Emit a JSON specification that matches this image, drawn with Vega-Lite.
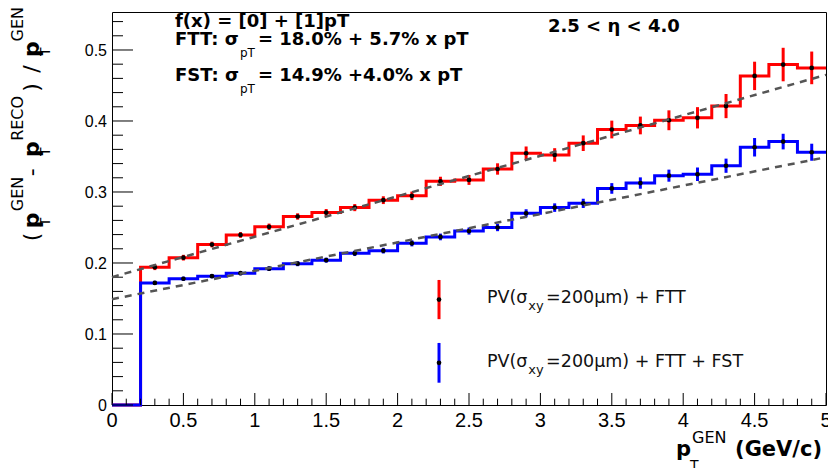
{
  "$schema": "https://vega.github.io/schema/vega-lite/v6.json",
  "width": 714,
  "height": 393,
  "autosize": {"type": "none"},
  "padding": {"left": 112, "top": 12, "right": 2, "bottom": 63},
  "background": "white",
  "config": {
    "view": {"stroke": "#000", "strokeWidth": 1},
    "axis": {"grid": false, "title": null, "ticks": false, "labels": false, "domain": false}
  },
  "datasets": {
    "bins": [
      {"det": "FTT", "x0": 0.0, "x1": 0.2, "xc": 0.1, "val": 0, "err": 0},
      {"det": "FTT", "x0": 0.2, "x1": 0.4, "xc": 0.3, "val": 0.194, "err": 0.004},
      {"det": "FTT", "x0": 0.4, "x1": 0.6, "xc": 0.5, "val": 0.2075, "err": 0.004},
      {"det": "FTT", "x0": 0.6, "x1": 0.8, "xc": 0.7, "val": 0.226, "err": 0.004},
      {"det": "FTT", "x0": 0.8, "x1": 1.0, "xc": 0.9, "val": 0.2395, "err": 0.004},
      {"det": "FTT", "x0": 1.0, "x1": 1.2, "xc": 1.1, "val": 0.251, "err": 0.0045},
      {"det": "FTT", "x0": 1.2, "x1": 1.4, "xc": 1.3, "val": 0.2655, "err": 0.0045},
      {"det": "FTT", "x0": 1.4, "x1": 1.6, "xc": 1.5, "val": 0.271, "err": 0.005},
      {"det": "FTT", "x0": 1.6, "x1": 1.8, "xc": 1.7, "val": 0.278, "err": 0.005},
      {"det": "FTT", "x0": 1.8, "x1": 2.0, "xc": 1.9, "val": 0.2885, "err": 0.0055},
      {"det": "FTT", "x0": 2.0, "x1": 2.2, "xc": 2.1, "val": 0.2946, "err": 0.006},
      {"det": "FTT", "x0": 2.2, "x1": 2.4, "xc": 2.3, "val": 0.315, "err": 0.0065},
      {"det": "FTT", "x0": 2.4, "x1": 2.6, "xc": 2.5, "val": 0.317, "err": 0.007},
      {"det": "FTT", "x0": 2.6, "x1": 2.8, "xc": 2.7, "val": 0.3324, "err": 0.008},
      {"det": "FTT", "x0": 2.8, "x1": 3.0, "xc": 2.9, "val": 0.3546, "err": 0.0095},
      {"det": "FTT", "x0": 3.0, "x1": 3.2, "xc": 3.1, "val": 0.3522, "err": 0.0095},
      {"det": "FTT", "x0": 3.2, "x1": 3.4, "xc": 3.3, "val": 0.3687, "err": 0.011},
      {"det": "FTT", "x0": 3.4, "x1": 3.6, "xc": 3.5, "val": 0.388, "err": 0.0125},
      {"det": "FTT", "x0": 3.6, "x1": 3.8, "xc": 3.7, "val": 0.3937, "err": 0.0125},
      {"det": "FTT", "x0": 3.8, "x1": 4.0, "xc": 3.9, "val": 0.401, "err": 0.014},
      {"det": "FTT", "x0": 4.0, "x1": 4.2, "xc": 4.1, "val": 0.4045, "err": 0.015},
      {"det": "FTT", "x0": 4.2, "x1": 4.4, "xc": 4.3, "val": 0.421, "err": 0.017},
      {"det": "FTT", "x0": 4.4, "x1": 4.6, "xc": 4.5, "val": 0.4635, "err": 0.02},
      {"det": "FTT", "x0": 4.6, "x1": 4.8, "xc": 4.7, "val": 0.4795, "err": 0.0236},
      {"det": "FTT", "x0": 4.8, "x1": 5.0, "xc": 4.9, "val": 0.4748, "err": 0.023},
      {"det": "FST", "x0": 0.0, "x1": 0.2, "xc": 0.1, "val": 0, "err": 0},
      {"det": "FST", "x0": 0.2, "x1": 0.4, "xc": 0.3, "val": 0.172, "err": 0.003},
      {"det": "FST", "x0": 0.4, "x1": 0.6, "xc": 0.5, "val": 0.1778, "err": 0.003},
      {"det": "FST", "x0": 0.6, "x1": 0.8, "xc": 0.7, "val": 0.1815, "err": 0.003},
      {"det": "FST", "x0": 0.8, "x1": 1.0, "xc": 0.9, "val": 0.1857, "err": 0.003},
      {"det": "FST", "x0": 1.0, "x1": 1.2, "xc": 1.1, "val": 0.192, "err": 0.0033},
      {"det": "FST", "x0": 1.2, "x1": 1.4, "xc": 1.3, "val": 0.199, "err": 0.0035},
      {"det": "FST", "x0": 1.4, "x1": 1.6, "xc": 1.5, "val": 0.204, "err": 0.0035},
      {"det": "FST", "x0": 1.6, "x1": 1.8, "xc": 1.7, "val": 0.2136, "err": 0.0038},
      {"det": "FST", "x0": 1.8, "x1": 2.0, "xc": 1.9, "val": 0.2174, "err": 0.004},
      {"det": "FST", "x0": 2.0, "x1": 2.2, "xc": 2.1, "val": 0.2277, "err": 0.0043},
      {"det": "FST", "x0": 2.2, "x1": 2.4, "xc": 2.3, "val": 0.2367, "err": 0.0047},
      {"det": "FST", "x0": 2.4, "x1": 2.6, "xc": 2.5, "val": 0.245, "err": 0.005},
      {"det": "FST", "x0": 2.6, "x1": 2.8, "xc": 2.7, "val": 0.25, "err": 0.0052},
      {"det": "FST", "x0": 2.8, "x1": 3.0, "xc": 2.9, "val": 0.27, "err": 0.0057},
      {"det": "FST", "x0": 3.0, "x1": 3.2, "xc": 3.1, "val": 0.278, "err": 0.006},
      {"det": "FST", "x0": 3.2, "x1": 3.4, "xc": 3.3, "val": 0.284, "err": 0.0065},
      {"det": "FST", "x0": 3.4, "x1": 3.6, "xc": 3.5, "val": 0.305, "err": 0.0075},
      {"det": "FST", "x0": 3.6, "x1": 3.8, "xc": 3.7, "val": 0.3126, "err": 0.008},
      {"det": "FST", "x0": 3.8, "x1": 4.0, "xc": 3.9, "val": 0.323, "err": 0.0085},
      {"det": "FST", "x0": 4.0, "x1": 4.2, "xc": 4.1, "val": 0.325, "err": 0.0095},
      {"det": "FST", "x0": 4.2, "x1": 4.4, "xc": 4.3, "val": 0.337, "err": 0.01},
      {"det": "FST", "x0": 4.4, "x1": 4.6, "xc": 4.5, "val": 0.363, "err": 0.013},
      {"det": "FST", "x0": 4.6, "x1": 4.8, "xc": 4.7, "val": 0.371, "err": 0.011},
      {"det": "FST", "x0": 4.8, "x1": 5.0, "xc": 4.9, "val": 0.356, "err": 0.012}
    ],
    "fits": [
      {"det": "FTT", "pt": 0, "sigma": 0.18},
      {"det": "FTT", "pt": 5, "sigma": 0.465},
      {"det": "FST", "pt": 0, "sigma": 0.149},
      {"det": "FST", "pt": 5, "sigma": 0.349}
    ],
    "xticks": [
      {"v": 0, "kind": "major", "base": 0}, {"v": 0.1, "kind": "minor", "base": 0}, {"v": 0.2, "kind": "minor", "base": 0}, {"v": 0.3, "kind": "minor", "base": 0}, {"v": 0.4, "kind": "minor", "base": 0},
      {"v": 0.5, "kind": "major", "base": 0}, {"v": 0.6, "kind": "minor", "base": 0}, {"v": 0.7, "kind": "minor", "base": 0}, {"v": 0.8, "kind": "minor", "base": 0}, {"v": 0.9, "kind": "minor", "base": 0},
      {"v": 1, "kind": "major", "base": 0}, {"v": 1.1, "kind": "minor", "base": 0}, {"v": 1.2, "kind": "minor", "base": 0}, {"v": 1.3, "kind": "minor", "base": 0}, {"v": 1.4, "kind": "minor", "base": 0},
      {"v": 1.5, "kind": "major", "base": 0}, {"v": 1.6, "kind": "minor", "base": 0}, {"v": 1.7, "kind": "minor", "base": 0}, {"v": 1.8, "kind": "minor", "base": 0}, {"v": 1.9, "kind": "minor", "base": 0},
      {"v": 2, "kind": "major", "base": 0}, {"v": 2.1, "kind": "minor", "base": 0}, {"v": 2.2, "kind": "minor", "base": 0}, {"v": 2.3, "kind": "minor", "base": 0}, {"v": 2.4, "kind": "minor", "base": 0},
      {"v": 2.5, "kind": "major", "base": 0}, {"v": 2.6, "kind": "minor", "base": 0}, {"v": 2.7, "kind": "minor", "base": 0}, {"v": 2.8, "kind": "minor", "base": 0}, {"v": 2.9, "kind": "minor", "base": 0},
      {"v": 3, "kind": "major", "base": 0}, {"v": 3.1, "kind": "minor", "base": 0}, {"v": 3.2, "kind": "minor", "base": 0}, {"v": 3.3, "kind": "minor", "base": 0}, {"v": 3.4, "kind": "minor", "base": 0},
      {"v": 3.5, "kind": "major", "base": 0}, {"v": 3.6, "kind": "minor", "base": 0}, {"v": 3.7, "kind": "minor", "base": 0}, {"v": 3.8, "kind": "minor", "base": 0}, {"v": 3.9, "kind": "minor", "base": 0},
      {"v": 4, "kind": "major", "base": 0}, {"v": 4.1, "kind": "minor", "base": 0}, {"v": 4.2, "kind": "minor", "base": 0}, {"v": 4.3, "kind": "minor", "base": 0}, {"v": 4.4, "kind": "minor", "base": 0},
      {"v": 4.5, "kind": "major", "base": 0}, {"v": 4.6, "kind": "minor", "base": 0}, {"v": 4.7, "kind": "minor", "base": 0}, {"v": 4.8, "kind": "minor", "base": 0}, {"v": 4.9, "kind": "minor", "base": 0},
      {"v": 5, "kind": "major", "base": 0}
    ],
    "yticks": [
      {"v": 0, "kind": "major", "base": 0}, {"v": 0.02, "kind": "minor", "base": 0}, {"v": 0.04, "kind": "minor", "base": 0}, {"v": 0.06, "kind": "minor", "base": 0}, {"v": 0.08, "kind": "minor", "base": 0},
      {"v": 0.1, "kind": "major", "base": 0}, {"v": 0.12, "kind": "minor", "base": 0}, {"v": 0.14, "kind": "minor", "base": 0}, {"v": 0.16, "kind": "minor", "base": 0}, {"v": 0.18, "kind": "minor", "base": 0},
      {"v": 0.2, "kind": "major", "base": 0}, {"v": 0.22, "kind": "minor", "base": 0}, {"v": 0.24, "kind": "minor", "base": 0}, {"v": 0.26, "kind": "minor", "base": 0}, {"v": 0.28, "kind": "minor", "base": 0},
      {"v": 0.3, "kind": "major", "base": 0}, {"v": 0.32, "kind": "minor", "base": 0}, {"v": 0.34, "kind": "minor", "base": 0}, {"v": 0.36, "kind": "minor", "base": 0}, {"v": 0.38, "kind": "minor", "base": 0},
      {"v": 0.4, "kind": "major", "base": 0}, {"v": 0.42, "kind": "minor", "base": 0}, {"v": 0.44, "kind": "minor", "base": 0}, {"v": 0.46, "kind": "minor", "base": 0}, {"v": 0.48, "kind": "minor", "base": 0},
      {"v": 0.5, "kind": "major", "base": 0}, {"v": 0.52, "kind": "minor", "base": 0}, {"v": 0.54, "kind": "minor", "base": 0}
    ],
    "legend": [
      {"det": "FTT", "lx": 2.29, "ly": 0.1485, "lerr": 0.0276},
      {"det": "FST", "lx": 2.29, "ly": 0.0594, "lerr": 0.028}
    ],
    "notes": [
      {"role": "hdr", "t": "f(x) = [0] + [1]pT", "x": 0.441, "y": 0.5318},
      {"role": "hdr", "t": "FTT: σ", "x": 0.441, "y": 0.5064},
      {"role": "hdrsub", "t": "pT", "x": 0.896, "y": 0.5064},
      {"role": "hdr", "t": "= 18.0% + 5.7% x pT", "x": 1.022, "y": 0.5064},
      {"role": "hdr", "t": "FST: σ", "x": 0.441, "y": 0.4569},
      {"role": "hdrsub", "t": "pT", "x": 0.896, "y": 0.4569},
      {"role": "hdr", "t": "= 14.9% +4.0% x pT", "x": 1.022, "y": 0.4569},
      {"role": "hdr", "t": "2.5 < η < 4.0", "x": 3.053, "y": 0.5257},
      {"role": "leg", "t": "PV(σ", "x": 2.626, "y": 0.1438},
      {"role": "legsub", "t": "xy", "x": 2.915, "y": 0.1438},
      {"role": "leg", "t": "=200μm) + FTT", "x": 3.04, "y": 0.1438},
      {"role": "leg", "t": "PV(σ", "x": 2.626, "y": 0.0533},
      {"role": "legsub", "t": "xy", "x": 2.915, "y": 0.0533},
      {"role": "leg", "t": "=200μm) + FTT + FST", "x": 3.04, "y": 0.0533},
      {"role": "xt", "t": "p", "x": 3.95, "y": -0.0721},
      {"role": "xtsub", "t": "T", "x": 4.048, "y": -0.0721},
      {"role": "xtsup", "t": "GEN", "x": 4.062, "y": -0.0721},
      {"role": "xt", "t": "(GeV/c)", "x": 4.363, "y": -0.0721},
      {"role": "yt", "t": "(", "x": -0.511, "y": 0.2306},
      {"role": "ytb", "t": "p", "x": -0.511, "y": 0.2489},
      {"role": "ytsub", "t": "T", "x": -0.511, "y": 0.2518},
      {"role": "ytsup", "t": "GEN", "x": -0.511, "y": 0.273},
      {"role": "yt", "t": "-", "x": -0.511, "y": 0.322},
      {"role": "ytb", "t": "p", "x": -0.511, "y": 0.3494},
      {"role": "ytsub", "t": "T", "x": -0.511, "y": 0.3508},
      {"role": "ytsup", "t": "RECO", "x": -0.511, "y": 0.372},
      {"role": "yt", "t": ")", "x": -0.511, "y": 0.4413},
      {"role": "yt", "t": "/", "x": -0.511, "y": 0.468},
      {"role": "ytb", "t": "p", "x": -0.511, "y": 0.49},
      {"role": "ytsub", "t": "T", "x": -0.511, "y": 0.4915},
      {"role": "ytsup", "t": "GEN", "x": -0.511, "y": 0.512}
    ]
  },
  "layer": [
    {
      "data": {"name": "bins"},
      "transform": [{"fold": ["x0", "x1"], "as": ["edge", "xe"]}],
      "mark": {"type": "line", "strokeWidth": 3, "interpolate": "linear"},
      "encoding": {
        "x": {"field": "xe", "type": "quantitative", "scale": {"domain": [0, 5], "nice": false, "zero": false}, "axis": null},
        "y": {"field": "val", "type": "quantitative", "scale": {"domain": [0, 0.5535], "nice": false, "zero": false}, "axis": null},
        "color": {"field": "det", "type": "nominal", "scale": {"domain": ["FTT", "FST"], "range": ["#ff0000", "#0000ff"]}, "legend": null},
        "order": {"value": null}
      }
    },
    {
      "data": {"name": "xticks"},
      "transform": [{"filter": "datum.kind === 'major'"}],
      "mark": {"type": "point", "shape": "M0,0L0,-2", "filled": false, "color": "#000", "strokeWidth": 1, "opacity": 1, "size": 144},
      "encoding": {
        "x": {"field": "v", "type": "quantitative", "axis": null},
        "y": {"field": "base", "type": "quantitative", "axis": null}
      }
    },
    {
      "data": {"name": "xticks"},
      "transform": [{"filter": "datum.kind === 'minor'"}],
      "mark": {"type": "point", "shape": "M0,0L0,-2", "filled": false, "color": "#000", "strokeWidth": 1, "opacity": 1, "size": 40},
      "encoding": {
        "x": {"field": "v", "type": "quantitative", "axis": null},
        "y": {"field": "base", "type": "quantitative", "axis": null}
      }
    },
    {
      "data": {"name": "xticks"},
      "transform": [{"filter": "datum.kind === 'major'"}],
      "mark": {"type": "text", "align": "center", "baseline": "alphabetic", "dy": 22, "font": "Liberation Sans", "fontSize": 20, "color": "#000"},
      "encoding": {
        "x": {"field": "v", "type": "quantitative", "axis": null},
        "y": {"field": "base", "type": "quantitative", "axis": null},
        "text": {"field": "v", "type": "quantitative", "format": "~g"}
      }
    },
    {
      "data": {"name": "yticks"},
      "transform": [{"filter": "datum.kind === 'major'"}],
      "mark": {"type": "point", "shape": "M0,0L2,0", "filled": false, "color": "#000", "strokeWidth": 1, "opacity": 1, "size": 441},
      "encoding": {
        "y": {"field": "v", "type": "quantitative", "axis": null},
        "x": {"field": "base", "type": "quantitative", "axis": null}
      }
    },
    {
      "data": {"name": "yticks"},
      "transform": [{"filter": "datum.kind === 'minor'"}],
      "mark": {"type": "point", "shape": "M0,0L2,0", "filled": false, "color": "#000", "strokeWidth": 1, "opacity": 1, "size": 121},
      "encoding": {
        "y": {"field": "v", "type": "quantitative", "axis": null},
        "x": {"field": "base", "type": "quantitative", "axis": null}
      }
    },
    {
      "data": {"name": "yticks"},
      "transform": [{"filter": "datum.kind === 'major'"}],
      "mark": {"type": "text", "align": "right", "baseline": "alphabetic", "dx": -5, "dy": 6, "font": "Liberation Sans", "fontSize": 16, "color": "#000"},
      "encoding": {
        "y": {"field": "v", "type": "quantitative", "axis": null},
        "x": {"field": "base", "type": "quantitative", "axis": null},
        "text": {"field": "v", "type": "quantitative", "format": "~g"}
      }
    },
    {
      "data": {"name": "bins"},
      "transform": [{"filter": "datum.val > 0"}],
      "mark": {"type": "errorbar", "ticks": false, "rule": {"strokeWidth": 3}},
      "encoding": {
        "x": {"field": "xc", "type": "quantitative", "axis": null},
        "y": {"field": "val", "type": "quantitative", "axis": null},
        "yError": {"field": "err"},
        "color": {"field": "det", "type": "nominal", "legend": null}
      }
    },
    {
      "data": {"name": "bins"},
      "transform": [{"filter": "datum.val > 0"}],
      "mark": {"type": "circle", "size": 22, "color": "#000", "opacity": 1},
      "encoding": {
        "x": {"field": "xc", "type": "quantitative", "axis": null},
        "y": {"field": "val", "type": "quantitative", "axis": null}
      }
    },
    {
      "data": {"name": "fits"},
      "mark": {"type": "line", "color": "#555555", "strokeWidth": 2.5, "strokeDash": [7, 6]},
      "encoding": {
        "x": {"field": "pt", "type": "quantitative", "axis": null},
        "y": {"field": "sigma", "type": "quantitative", "axis": null},
        "detail": {"field": "det"}
      }
    },
    {
      "data": {"name": "legend"},
      "mark": {"type": "errorbar", "ticks": false, "rule": {"strokeWidth": 3}},
      "encoding": {
        "x": {"field": "lx", "type": "quantitative", "axis": null},
        "y": {"field": "ly", "type": "quantitative", "axis": null},
        "yError": {"field": "lerr"},
        "color": {"field": "det", "type": "nominal", "legend": null}
      }
    },
    {
      "data": {"name": "legend"},
      "mark": {"type": "circle", "size": 22, "color": "#000", "opacity": 1},
      "encoding": {
        "x": {"field": "lx", "type": "quantitative", "axis": null},
        "y": {"field": "ly", "type": "quantitative", "axis": null}
      }
    },
    {
      "data": {"name": "notes"},
      "transform": [{"filter": "datum.role === 'hdr'"}],
      "mark": {"type": "text", "align": "left", "baseline": "alphabetic", "font": "DejaVu Sans", "fontWeight": "bold", "fontSize": 18, "color": "#000"},
      "encoding": {
        "x": {"field": "x", "type": "quantitative", "axis": null},
        "y": {"field": "y", "type": "quantitative", "axis": null},
        "text": {"field": "t"}
      }
    },
    {
      "data": {"name": "notes"},
      "transform": [{"filter": "datum.role === 'hdrsub'"}],
      "mark": {"type": "text", "align": "left", "baseline": "alphabetic", "font": "DejaVu Sans", "fontSize": 12, "dy": 12, "color": "#000"},
      "encoding": {
        "x": {"field": "x", "type": "quantitative", "axis": null},
        "y": {"field": "y", "type": "quantitative", "axis": null},
        "text": {"field": "t"}
      }
    },
    {
      "data": {"name": "notes"},
      "transform": [{"filter": "datum.role === 'leg'"}],
      "mark": {"type": "text", "align": "left", "baseline": "alphabetic", "font": "DejaVu Sans", "fontSize": 17.5, "color": "#111"},
      "encoding": {
        "x": {"field": "x", "type": "quantitative", "axis": null},
        "y": {"field": "y", "type": "quantitative", "axis": null},
        "text": {"field": "t"}
      }
    },
    {
      "data": {"name": "notes"},
      "transform": [{"filter": "datum.role === 'legsub'"}],
      "mark": {"type": "text", "align": "left", "baseline": "alphabetic", "font": "DejaVu Sans", "fontSize": 13, "dy": 7, "color": "#111"},
      "encoding": {
        "x": {"field": "x", "type": "quantitative", "axis": null},
        "y": {"field": "y", "type": "quantitative", "axis": null},
        "text": {"field": "t"}
      }
    },
    {
      "data": {"name": "notes"},
      "transform": [{"filter": "datum.role === 'xt'"}],
      "mark": {"type": "text", "align": "left", "baseline": "alphabetic", "font": "DejaVu Sans", "fontWeight": "bold", "fontSize": 21, "color": "#000"},
      "encoding": {
        "x": {"field": "x", "type": "quantitative", "axis": null},
        "y": {"field": "y", "type": "quantitative", "axis": null},
        "text": {"field": "t"}
      }
    },
    {
      "data": {"name": "notes"},
      "transform": [{"filter": "datum.role === 'xtsub'"}],
      "mark": {"type": "text", "align": "left", "baseline": "alphabetic", "font": "DejaVu Sans", "fontSize": 14, "dy": 14, "color": "#000"},
      "encoding": {
        "x": {"field": "x", "type": "quantitative", "axis": null},
        "y": {"field": "y", "type": "quantitative", "axis": null},
        "text": {"field": "t"}
      }
    },
    {
      "data": {"name": "notes"},
      "transform": [{"filter": "datum.role === 'xtsup'"}],
      "mark": {"type": "text", "align": "left", "baseline": "alphabetic", "font": "DejaVu Sans", "fontSize": 16, "dy": -13, "color": "#000"},
      "encoding": {
        "x": {"field": "x", "type": "quantitative", "axis": null},
        "y": {"field": "y", "type": "quantitative", "axis": null},
        "text": {"field": "t"}
      }
    },
    {
      "data": {"name": "notes"},
      "transform": [{"filter": "datum.role === 'yt'"}],
      "mark": {"type": "text", "align": "left", "baseline": "alphabetic", "angle": 270, "font": "DejaVu Sans", "fontSize": 22, "color": "#000"},
      "encoding": {
        "x": {"field": "x", "type": "quantitative", "axis": null},
        "y": {"field": "y", "type": "quantitative", "axis": null},
        "text": {"field": "t"}
      }
    },
    {
      "data": {"name": "notes"},
      "transform": [{"filter": "datum.role === 'ytb'"}],
      "mark": {"type": "text", "align": "left", "baseline": "alphabetic", "angle": 270, "font": "DejaVu Sans", "fontWeight": "bold", "fontSize": 22, "color": "#000"},
      "encoding": {
        "x": {"field": "x", "type": "quantitative", "axis": null},
        "y": {"field": "y", "type": "quantitative", "axis": null},
        "text": {"field": "t"}
      }
    },
    {
      "data": {"name": "notes"},
      "transform": [{"filter": "datum.role === 'ytsub'"}],
      "mark": {"type": "text", "align": "left", "baseline": "alphabetic", "angle": 270, "font": "DejaVu Sans", "fontSize": 14, "dy": 11, "color": "#000"},
      "encoding": {
        "x": {"field": "x", "type": "quantitative", "axis": null},
        "y": {"field": "y", "type": "quantitative", "axis": null},
        "text": {"field": "t"}
      }
    },
    {
      "data": {"name": "notes"},
      "transform": [{"filter": "datum.role === 'ytsup'"}],
      "mark": {"type": "text", "align": "left", "baseline": "alphabetic", "angle": 270, "font": "DejaVu Sans", "fontSize": 16, "dy": -16, "color": "#000"},
      "encoding": {
        "x": {"field": "x", "type": "quantitative", "axis": null},
        "y": {"field": "y", "type": "quantitative", "axis": null},
        "text": {"field": "t"}
      }
    }
  ]
}
